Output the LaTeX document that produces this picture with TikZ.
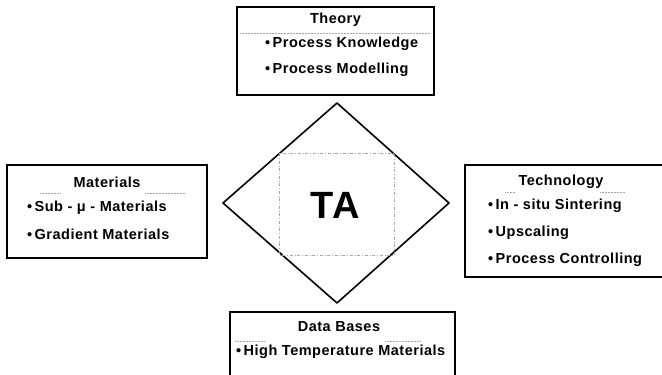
\documentclass[tikz,border=0pt]{standalone}
\usepackage{fontspec}
\setmainfont{Liberation Sans}[LetterSpace=3.5]
\usetikzlibrary{positioning,calc}

\begin{document}
\begin{tikzpicture}[x=1pt, y=-1pt, font=\bfseries\fontsize{14.5}{16}\selectfont,
  box/.style={draw, line width=1.6pt},
  sep/.style={gray!70, densely dotted, line width=0.5pt},
  item/.style={anchor=west, inner sep=0pt},
  head/.style={inner sep=0pt}]

  \useasboundingbox (0,0) rectangle (662,375);
  \clip (0,0) rectangle (662,375);

  % Define corners of the boxes
  \coordinate (thNW) at (237,7);   \coordinate (thSE) at (434,95);
  \coordinate (maNW) at (7,165);   \coordinate (maSE) at (207,258);
  \coordinate (teNW) at (465,165); \coordinate (teSE) at (680,277);
  \coordinate (dbNW) at (230,312); \coordinate (dbSE) at (455,390);

  % Define corners of the diamond
  \coordinate (dT) at (337,103);
  \coordinate (dL) at (223,203);
  \coordinate (dR) at (449,203);
  \coordinate (dB) at (337,303);

  % Define text nodes
  \node[head] (th) at (335.5,20) {Theory};
  \node[item] (th1) at (265,44) {\textbullet\,Process Knowledge};
  \node[item] (th2) at (265,70) {\textbullet\,Process Modelling};

  \node[head] (ma) at (107,182) {Materials};
  \node[item] (ma1) at (27,208) {\textbullet\,Sub - μ - Materials};
  \node[item] (ma2) at (27,234) {\textbullet\,Gradient Materials};

  \node[head] (te) at (561,182) {Technology};
  \node[item] (te1) at (488,206) {\textbullet\,In - situ Sintering};
  \node[item] (te2) at (488,233) {\textbullet\,Upscaling};
  \node[item] (te3) at (488,260) {\textbullet\,Process Controlling};

  \node[head] (db) at (339,327) {Data Bases};
  \node[item] (db1) at (236,352) {\textbullet\,High Temperature Materials};

  \node[font=\bfseries\fontsize{38}{42}\selectfont] (ta) at (335,205) {TA};

  % Draw boxes and diamond
  \draw[box] (thNW) rectangle (thSE);
  \draw[box] (maNW) rectangle (maSE);
  \draw[box] (teNW) rectangle (teSE);
  \draw[box] (dbNW) rectangle (dbSE);
  \draw[box, line join=round] (dT) -- (dR) -- (dB) -- (dL) -- cycle;

  % Draw faint separators
  \draw[sep] (240,33) -- (430,33);
  \draw[sep] (40,193) -- (60,193);
  \draw[sep] (145,193) -- (185,193);
  \draw[sep] (505,192) -- (515,192);
  \draw[sep] (600,192) -- (625,192);
  \draw[sep] (235,341) -- (265,341);
  \draw[sep] (385,341) -- (420,341);
  \draw[sep, dash dot] (279,153) rectangle (394,255);

\end{tikzpicture}
\end{document}
